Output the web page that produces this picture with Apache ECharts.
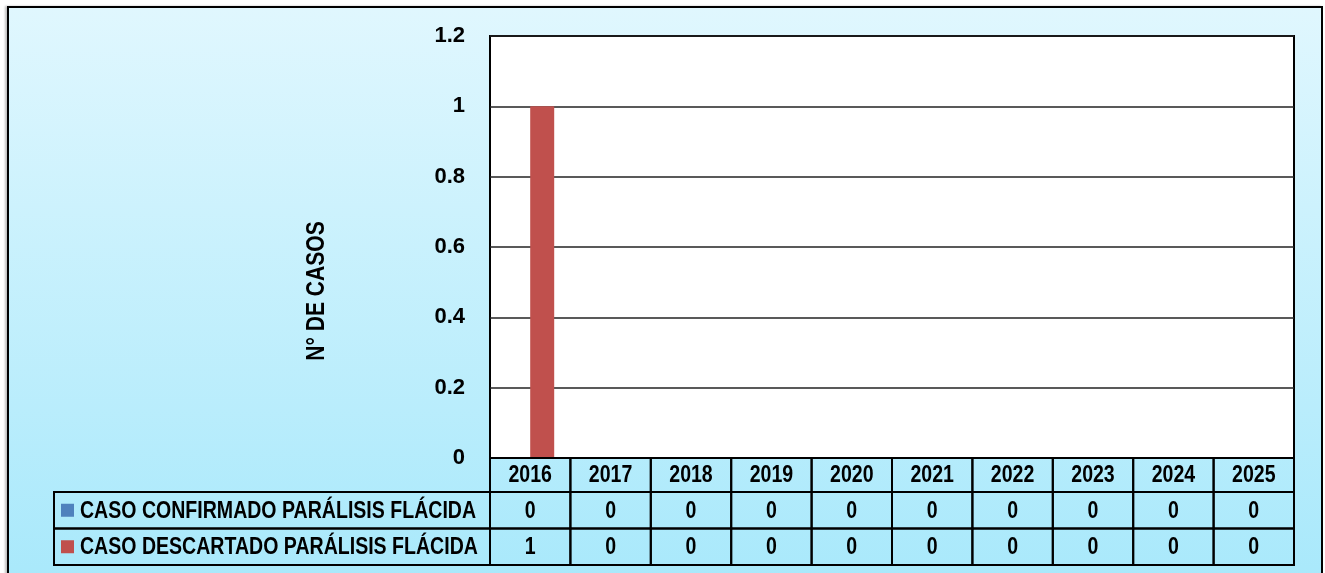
<!DOCTYPE html>
<html><head><meta charset="utf-8">
<script src="https://cdn.jsdelivr.net/npm/echarts@6/dist/echarts.min.js"></script>
<style>
html,body{margin:0;padding:0;background:#fff;overflow:hidden;}
#bg{position:absolute;left:7px;top:6px;width:1312px;height:600px;border:2px solid #000;
background:linear-gradient(to bottom,#e0f7fe 0%,#a6e8fb 100%);box-shadow:-2px 0 2px rgba(0,0,0,0.25);}
#c{position:absolute;left:0;top:0;width:1325px;height:573px;}
</style>
</head><body><div id="bg"></div><div id="c"></div>
<script>
const years = ['2016','2017','2018','2019','2020','2021','2022','2023','2024','2025'];
const seriesNames = ['CASO CONFIRMADO PARÁLISIS FLÁCIDA','CASO DESCARTADO PARÁLISIS FLÁCIDA'];
const confirmado = [0,0,0,0,0,0,0,0,0,0];
const descartado = [1,0,0,0,0,0,0,0,0,0];
const seriesColors = ['#4f81bd','#c0504d'];
const yMin = 0, yMax = 1.2, yStep = 0.2;
const yTitle = 'N° DE CASOS';

const FONT = '"Liberation Sans",Arial,sans-serif';
const NARROW = 0.85;
const chart = echarts.init(document.getElementById('c'), null, {renderer:'canvas'});
const allSeries = [confirmado, descartado];
const option = {
  backgroundColor: 'transparent',
  animation: false,
  grid: {left:490, right:31, top:36, bottom:115, show:true, backgroundColor:'#fff', borderColor:'#000', borderWidth:2, containLabel:false},
  xAxis: {type:'category', data: years, axisLabel:{show:false}, axisTick:{show:false}, axisLine:{show:false}},
  yAxis: {type:'value', min:yMin, max:yMax, interval:yStep,
    axisLabel:{fontFamily:FONT, fontWeight:'bold', fontSize:22, color:'#000', margin:25},
    axisLine:{show:false}, axisTick:{show:false},
    splitLine:{show:true, lineStyle:{color:'#222', width:1.5}}},
  series: allSeries.map((d,i)=>({type:'bar', name:seriesNames[i], data:d, barWidth:24, barGap:'0%', itemStyle:{color:seriesColors[i]}}))
};
chart.setOption(option);

const x0 = chart.convertToPixel({xAxisIndex:0}, years[0]);
const x1 = chart.convertToPixel({xAxisIndex:0}, years[1]);
const band = x1 - x0;
const tLeft = x0 - band/2;
const yBase = chart.convertToPixel({yAxisIndex:0}, 0);
const yTop = chart.convertToPixel({yAxisIndex:0}, yMax);
const headH = 34, rowH = 36.5, labelLeft = 54;
const els = [];
const txt = (t, x, y, align) => ({type:'text', z:10, x:x, y:y, scaleX:NARROW,
  style:{text:t, x:0, y:0, align:align||'center', verticalAlign:'middle', fontFamily:FONT, fontWeight:'bold', fontSize:23, fill:'#000'}});
const cell = (x, y, w, h) => ({type:'rect', z:9, shape:{x:x, y:y, width:w, height:h}, style:{fill:'rgba(0,0,0,0)', stroke:'#000', lineWidth:2}});
years.forEach((yr,i)=>{
  els.push(cell(tLeft+i*band, yBase, band, headH));
  els.push(txt(yr, tLeft+(i+0.5)*band, yBase+headH/2+1));
});
allSeries.forEach((d,r)=>{
  const y = yBase + headH + r*rowH;
  els.push(cell(labelLeft, y, tLeft-labelLeft, rowH));
  els.push({type:'rect', z:10, shape:{x:labelLeft+7, y:y+rowH/2-6.5, width:13, height:13}, style:{fill:seriesColors[r]}});
  els.push(txt(seriesNames[r], labelLeft+26, y+rowH/2+1, 'left'));
  d.forEach((v,i)=>{
    els.push(cell(tLeft+i*band, y, band, rowH));
    els.push(txt(String(v), tLeft+(i+0.5)*band, y+rowH/2+1));
  });
});
// vertical axis title
els.push({type:'text', z:10, x:317, y:(yTop+yBase)/2+44, rotation:Math.PI/2, scaleX:0.81,
  style:{text:yTitle, x:0, y:0, align:'center', verticalAlign:'middle', fontFamily:FONT, fontWeight:'bold', fontSize:26, fill:'#000'}});
chart.setOption({graphic: els});
</script>
</body></html>
